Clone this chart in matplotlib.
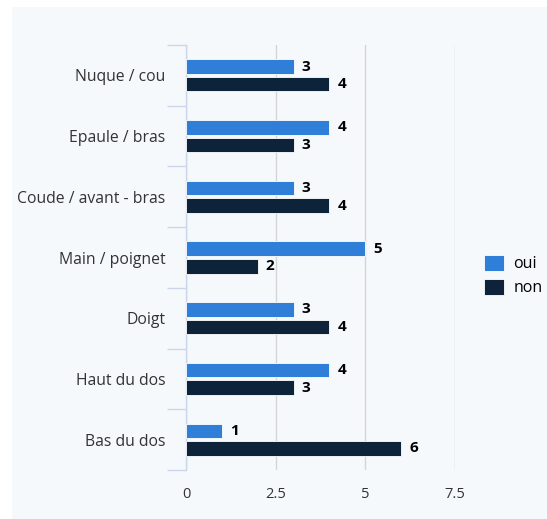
import matplotlib.pyplot as plt
import matplotlib.patches as mpatches
import numpy as np

# body parts and answer counts
parts = ['Nuque / cou', 'Epaule / bras', 'Coude / avant - bras', 'Main / poignet',
         'Doigt', 'Haut du dos', 'Bas du dos']
oui = [3, 4, 3, 5, 3, 4, 1]
non = [4, 3, 4, 2, 4, 3, 6]
xticks = [0, 2.5, 5, 7.5]

plt.rcParams['font.family'] = ['Open Sans', 'DejaVu Sans']

bg = '#f6f9fc'
c_oui = '#2f7ed8'
c_non = '#0d233a'

fig = plt.figure(figsize=(5.47, 5.19), dpi=100, facecolor='white')
fig.patches.append(mpatches.Rectangle((12/547, 0), 1, 1 - 7/519, transform=fig.transFigure,
                                      facecolor=bg, edgecolor='none', zorder=-10))
ax = fig.add_axes([186/547, 49/519, 269/547, 425/519])
ax.set_facecolor(bg)

y = np.arange(len(parts))
h = 0.24
off = 0.145
b1 = ax.barh(y - off, oui, height=h, color=c_oui, edgecolor='white', linewidth=0.6, label='oui', zorder=3)
b2 = ax.barh(y + off, non, height=h, color=c_non, edgecolor='white', linewidth=0.6, label='non', zorder=3)

for bars, vals in ((b1, oui), (b2, non)):
    for bar, v in zip(bars, vals):
        ax.text(bar.get_width() + 0.22, bar.get_y() + bar.get_height() / 2, str(v),
                va='center', ha='left', fontsize=11, fontweight='bold', color='black')

ax.set_ylim(len(parts) - 0.5, -0.5)
ax.set_xlim(0, 7.5)
ax.set_xticks(xticks)
ax.set_xticklabels(['0', '2.5', '5', '7.5'])
ax.grid(axis='x', color='#d4d4d4', linewidth=1, zorder=0)

# category boundaries as tick marks, labels centered
ax.set_yticks(np.arange(len(parts) + 1) - 0.5)
ax.set_yticklabels([])
ax.set_yticks(y, minor=True)
ax.set_yticklabels(parts, minor=True)
ax.tick_params(axis='y', which='major', length=14, color='#ccd6eb', width=1)
ax.tick_params(axis='y', which='minor', length=0, pad=15, labelsize=11.3, labelcolor='#333333')
ax.tick_params(axis='x', length=0, pad=12, labelsize=10.5, labelcolor='#333333')

for s in ['top', 'right', 'bottom']:
    ax.spines[s].set_visible(False)
ax.spines['left'].set_color('#ccd6eb')
ax.spines['left'].set_linewidth(1)

ax.legend(loc='center left', bbox_to_anchor=(298/269, 0.458), frameon=False, fontsize=11.5,
          handlelength=1.25, handleheight=1.2, handletextpad=0.6, labelspacing=0.4,
          borderaxespad=0, borderpad=0)

fig.savefig('out.png', dpi=100, facecolor='white')
